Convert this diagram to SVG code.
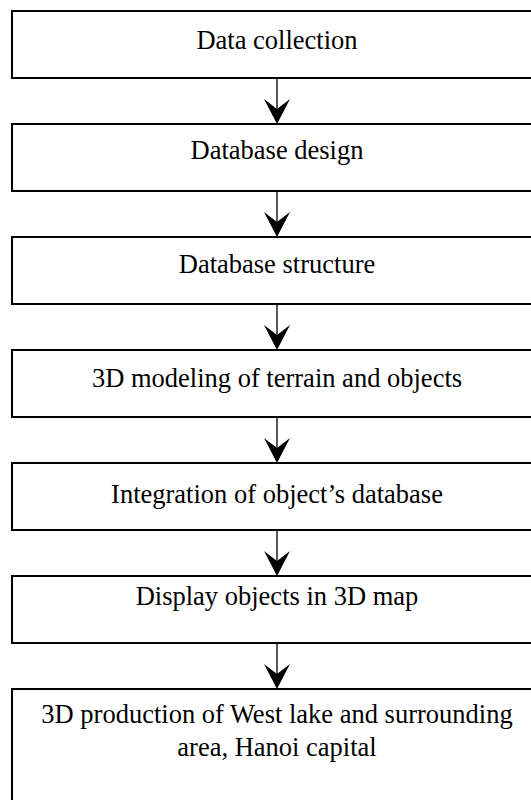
<svg xmlns="http://www.w3.org/2000/svg" width="531" height="800" viewBox="0 0 531 800">
<defs>
<style>
.box{fill:#fff;stroke:#000;stroke-width:2}
.t{font-family:"Liberation Serif","Times New Roman",serif;font-size:26.5px;fill:#000;text-anchor:middle}
.ln{stroke:#000;stroke-width:1.3;fill:none}
.hd{fill:#000;stroke:none}
</style>
<path id="ah" d="M0,0 L-13,-25 L0,-15 L13,-25 Z"/>
</defs>
<rect width="531" height="800" fill="#fff"/>
<g id="connectors">
<line class="ln" x1="277" y1="78" x2="277" y2="110"/><use href="#ah" class="hd" x="277" y="124"/>
<line class="ln" x1="277" y1="191" x2="277" y2="223"/><use href="#ah" class="hd" x="277" y="237"/>
<line class="ln" x1="277" y1="304" x2="277" y2="336"/><use href="#ah" class="hd" x="277" y="350"/>
<line class="ln" x1="277" y1="417" x2="277" y2="449"/><use href="#ah" class="hd" x="277" y="463"/>
<line class="ln" x1="277" y1="530" x2="277" y2="562"/><use href="#ah" class="hd" x="277" y="576"/>
<line class="ln" x1="277" y1="643" x2="277" y2="675"/><use href="#ah" class="hd" x="277" y="689"/>
</g>
<g id="n1"><rect class="box" x="12" y="11" width="530" height="67"/><text class="t" x="277" y="49">Data collection</text></g>
<g id="n2"><rect class="box" x="12" y="124" width="530" height="67"/><text class="t" x="277" y="159">Database design</text></g>
<g id="n3"><rect class="box" x="12" y="237" width="530" height="67"/><text class="t" x="277" y="273">Database structure</text></g>
<g id="n4"><rect class="box" x="12" y="350" width="530" height="67"/><text class="t" x="277" y="387">3D modeling of terrain and objects</text></g>
<g id="n5"><rect class="box" x="12" y="463" width="530" height="67"/><text class="t" x="277" y="503">Integration of object’s database</text></g>
<g id="n6"><rect class="box" x="12" y="576" width="530" height="67"/><text class="t" x="277" y="605">Display objects in 3D map</text></g>
<g id="n7"><rect class="box" x="12" y="689" width="530" height="130"/><text class="t" x="277" y="723">3D production of West lake and surrounding</text><text class="t" x="277" y="756">area, Hanoi capital</text></g>
</svg>
